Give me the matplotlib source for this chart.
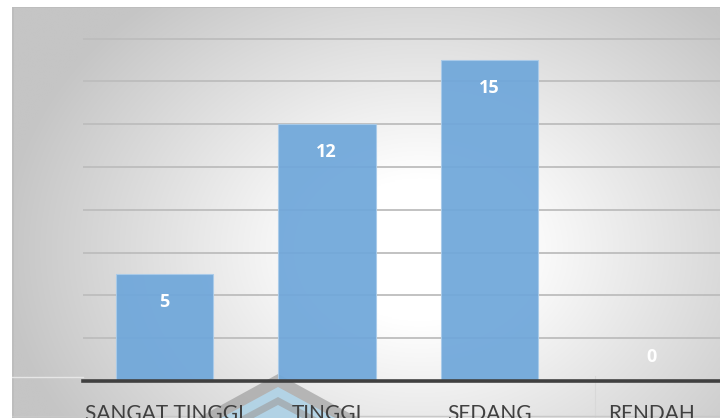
import numpy as np
import matplotlib
matplotlib.use("Agg")
import matplotlib.pyplot as plt
from matplotlib.patches import Polygon

categories = ["SANGAT TINGGI", "TINGGI", "SEDANG", "RENDAH"]
values = [5, 12, 15, 0]

W, H = 720, 418
fig = plt.figure(figsize=(W / 100, H / 100), dpi=100)
fig.patch.set_facecolor("white")

# background chart area with radial gradient
bg = fig.add_axes([12 / W, 0, (W - 12) / W, (H - 7) / H])
bg.set_axis_off()
xs = np.linspace(12, W, 400)
ys = np.linspace(7, H, 300)
X, Y = np.meshgrid(xs, ys)
d = np.sqrt(((X - 420) / 420) ** 2 + ((Y - 250) / 330) ** 2)
t = np.clip((d - 0.22) / 0.78, 0, 1)
val = (255 - t * 58) / 255
img = np.dstack([val, val, val])
bg.imshow(img, extent=[12, W, H, 7], aspect="auto", interpolation="bilinear")
bg.set_xlim(12, W)
bg.set_ylim(H, 7)
# chart border (top / left)
bg.plot([12, W], [7.5, 7.5], color="#bcbcbc", lw=1.2)
bg.plot([12.5, 12.5], [7, H], color="#bcbcbc", lw=1.2)
# faint artifacts
bg.plot([12, 83], [377, 377], color="#e6e6e6", lw=1)
bg.plot([595, 595], [376, H], color="#d8d8d8", lw=0.8)
bg.plot([12, W], [416.5, 416.5], color="#c8c8c8", lw=1)
# watermark logo
bg.add_patch(Polygon([[278, 374], [165, 436], [391, 436]], closed=True,
                     facecolor="#9a9a9a", alpha=0.65, edgecolor="none", zorder=3))
bg.add_patch(Polygon([[278, 387], [188, 436], [368, 436]], closed=True,
                     facecolor="#b3d9ee", alpha=0.85, edgecolor="none", zorder=4))
bg.add_patch(Polygon([[278, 397], [205, 436], [351, 436]], closed=True,
                     facecolor="#a0a0a0", alpha=0.65, edgecolor="none", zorder=5))
bg.add_patch(Polygon([[278, 405], [220, 436], [336, 436]], closed=True,
                     facecolor="#b3d9ee", alpha=0.85, edgecolor="none", zorder=6))

# plot area
ppu = 21.4
ymax = 18
ax_h = ymax * ppu
ax_w = 650
ax = fig.add_axes([83 / W, 37 / H, ax_w / W, ax_h / H])
ax.patch.set_alpha(0)
x = np.arange(len(categories))
ax.set_xlim(-0.5, len(categories) - 0.5)
ax.set_ylim(0, ymax)
ax.set_yticks(np.arange(2, ymax + 1, 2))
ax.yaxis.grid(True, color="#bdbdbd", lw=1.3, zorder=0)
ax.set_axisbelow(True)
bars = ax.bar(x, values, width=0.6, color="#6fa7da", edgecolor="#a9cbea",
              lw=0.8, alpha=0.93, zorder=2)
for s in ["top", "right", "left"]:
    ax.spines[s].set_visible(False)
ax.spines["bottom"].set_color("#404040")
ax.spines["bottom"].set_linewidth(2.6)
ax.spines["bottom"].set_zorder(5)
ax.tick_params(axis="y", left=False, labelleft=False)
ax.tick_params(axis="x", length=0, pad=16.5)
ax.set_xticks(x)
ax.set_xticklabels(categories, fontsize=15, color="#404040", family="Lato")

for xi, v in zip(x, values):
    if v > 0:
        ax.annotate(str(v), (xi, v), xytext=(0, -20), textcoords="offset points",
                    ha="center", va="center", color="white", fontsize=13,
                    fontweight="bold", family="Open Sans", zorder=6)
    else:
        ax.annotate(str(v), (xi, v), xytext=(0, 17), textcoords="offset points",
                    ha="center", va="center", color="white", fontsize=13,
                    fontweight="bold", family="Open Sans", zorder=6)

fig.savefig("out.png", dpi=100)
